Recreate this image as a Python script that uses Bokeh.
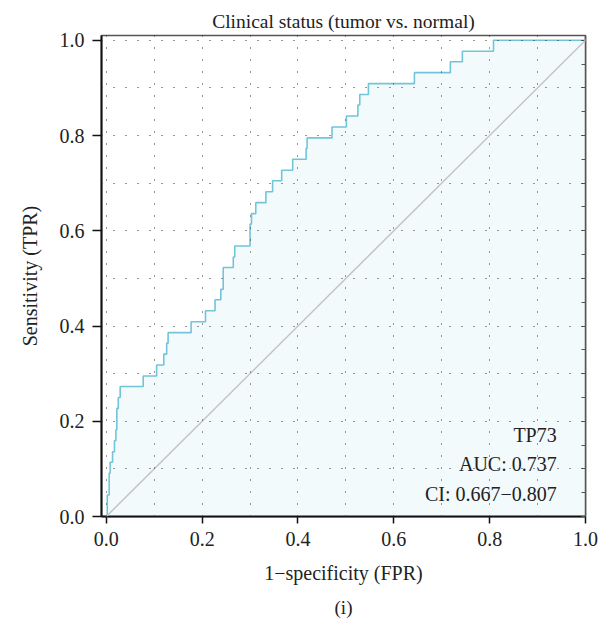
from bokeh.plotting import figure
from bokeh.models import (FixedTicker, LinearAxis, Range1d, Title, Label, Slope,
                          NumeralTickFormatter)
from bokeh.embed import file_html
from bokeh.resources import INLINE

# ---- texts ----
title_text = "Clinical status (tumor vs. normal)"
x_label = "1\u2212specificity (FPR)"
y_label = "Sensitivity (TPR)"
panel_tag = "(i)"
gene_name = "TP73"
auc_text = "AUC: 0.737"
ci_text = "CI: 0.667\u22120.807"

# ---- ROC corner points (top of each vertical rise) ----
fpr = [0.000, 0.002, 0.006, 0.008, 0.013, 0.017, 0.020, 0.022, 0.025, 0.029,
       0.077, 0.105, 0.120, 0.126, 0.129, 0.177, 0.207, 0.227, 0.239, 0.244,
       0.265, 0.268, 0.300, 0.303, 0.312, 0.333, 0.347, 0.366, 0.389, 0.417,
       0.419, 0.471, 0.501, 0.525, 0.529, 0.547, 0.643, 0.718, 0.743, 0.808,
       1.000]
tpr = [0.000, 0.045, 0.091, 0.114, 0.136, 0.159, 0.182, 0.227, 0.250, 0.273,
       0.295, 0.318, 0.341, 0.364, 0.386, 0.409, 0.432, 0.455, 0.477, 0.523,
       0.545, 0.568, 0.614, 0.636, 0.659, 0.682, 0.705, 0.727, 0.750, 0.773,
       0.795, 0.818, 0.841, 0.864, 0.886, 0.909, 0.932, 0.955, 0.977, 1.000,
       1.000]

axis_ticks = [0.0, 0.2, 0.4, 0.6, 0.8, 1.0]
grid_ticks = [0.0, 0.1, 0.2, 0.3, 0.4, 0.5, 0.6, 0.7, 0.8, 0.9, 1.0]
edge_ticks = [0.0, 0.05, 0.1, 0.15, 0.2, 0.25, 0.3, 0.35, 0.4, 0.45, 0.5,
              0.55, 0.6, 0.65, 0.7, 0.75, 0.8, 0.85, 0.9, 0.95, 1.0]

# expand to step vertices
sx = [fpr[0]]
sy = [tpr[0]]
for i in range(1, len(fpr)):
    sx += [fpr[i], fpr[i]]
    sy += [tpr[i - 1], tpr[i]]

FONT = "Liberation Serif"
CURVE = "#72c5d9"
FILL = "#f2fafc"
TXT = "#222222"

p = figure(width=598, height=625,
           x_range=Range1d(-0.01, 1.0), y_range=Range1d(0.0, 1.01),
           output_backend="svg", toolbar_location=None,
           min_border_left=101, min_border_right=13,
           min_border_top=35, min_border_bottom=108)

p.background_fill_color = "white"
p.border_fill_color = "white"
p.outline_line_color = "#555555"
p.outline_line_width = 1.5

# title
p.title.text = title_text
p.title.align = "center"
p.title.text_font = FONT
p.title.text_font_size = "19.5px"
p.title.text_font_style = "normal"
p.title.text_color = TXT
p.title.standoff = 8

# area + curve
p.varea(x=sx, y1=0, y2=sy, fill_color=FILL, fill_alpha=1.0)
p.add_layout(Slope(gradient=1, y_intercept=0, line_color="#c4c4c4", line_width=1.5))
p.line(sx, sy, line_color=CURVE, line_width=1.6)

# grids
for g in (p.xgrid, p.ygrid):
    g.ticker = FixedTicker(ticks=grid_ticks)
    g.grid_line_color = "#333333"
    g.grid_line_dash = "1 11"
    g.grid_line_width = 1
    g.level = "overlay"

# axes
for ax in (p.xaxis, p.yaxis):
    ax.ticker = FixedTicker(ticks=axis_ticks)
    ax.formatter = NumeralTickFormatter(format="0.0")
    ax.axis_line_color = "#111111"
    ax.axis_line_width = 2
    ax.major_tick_line_color = "#111111"
    ax.major_tick_line_width = 1.5
    ax.major_tick_in = 0
    ax.minor_tick_line_color = None
    ax.major_label_text_font = FONT
    ax.major_label_text_font_size = "20px"
    ax.major_label_text_color = TXT
    ax.axis_label_text_font = FONT
    ax.axis_label_text_font_size = "20px"
    ax.axis_label_text_font_style = "normal"
    ax.axis_label_text_color = TXT

p.xaxis.axis_label = x_label
p.yaxis.axis_label = y_label
p.xaxis.major_tick_out = 7
p.yaxis.major_tick_out = 9
p.xaxis.major_label_standoff = 8
p.yaxis.major_label_standoff = 8
p.xaxis.axis_label_standoff = 13
p.yaxis.axis_label_standoff = 16

# right edge small ticks
rax = LinearAxis(ticker=FixedTicker(ticks=edge_ticks))
rax.axis_line_color = "#555555"
rax.axis_line_width = 1.5
rax.major_tick_in = 4
rax.major_tick_out = 0
rax.major_tick_line_color = "#555555"
rax.minor_tick_line_color = None
rax.major_label_text_font_size = "0px"
rax.major_label_text_color = None
p.add_layout(rax, "right")

# panel tag below
tag = Title(text=panel_tag, align="center", text_font=FONT,
            text_font_size="19px", text_font_style="normal",
            text_color=TXT, standoff=16)
p.add_layout(tag, "below")

# annotation texts
for txt, yy in ((gene_name, 0.172), (auc_text, 0.111), (ci_text, 0.048)):
    p.add_layout(Label(x=0.94, y=yy, text=txt, text_align="right",
                       text_baseline="middle", text_font=FONT,
                       text_font_size="20px", text_color=TXT))

open("out.html", "w").write(file_html(p, INLINE))
